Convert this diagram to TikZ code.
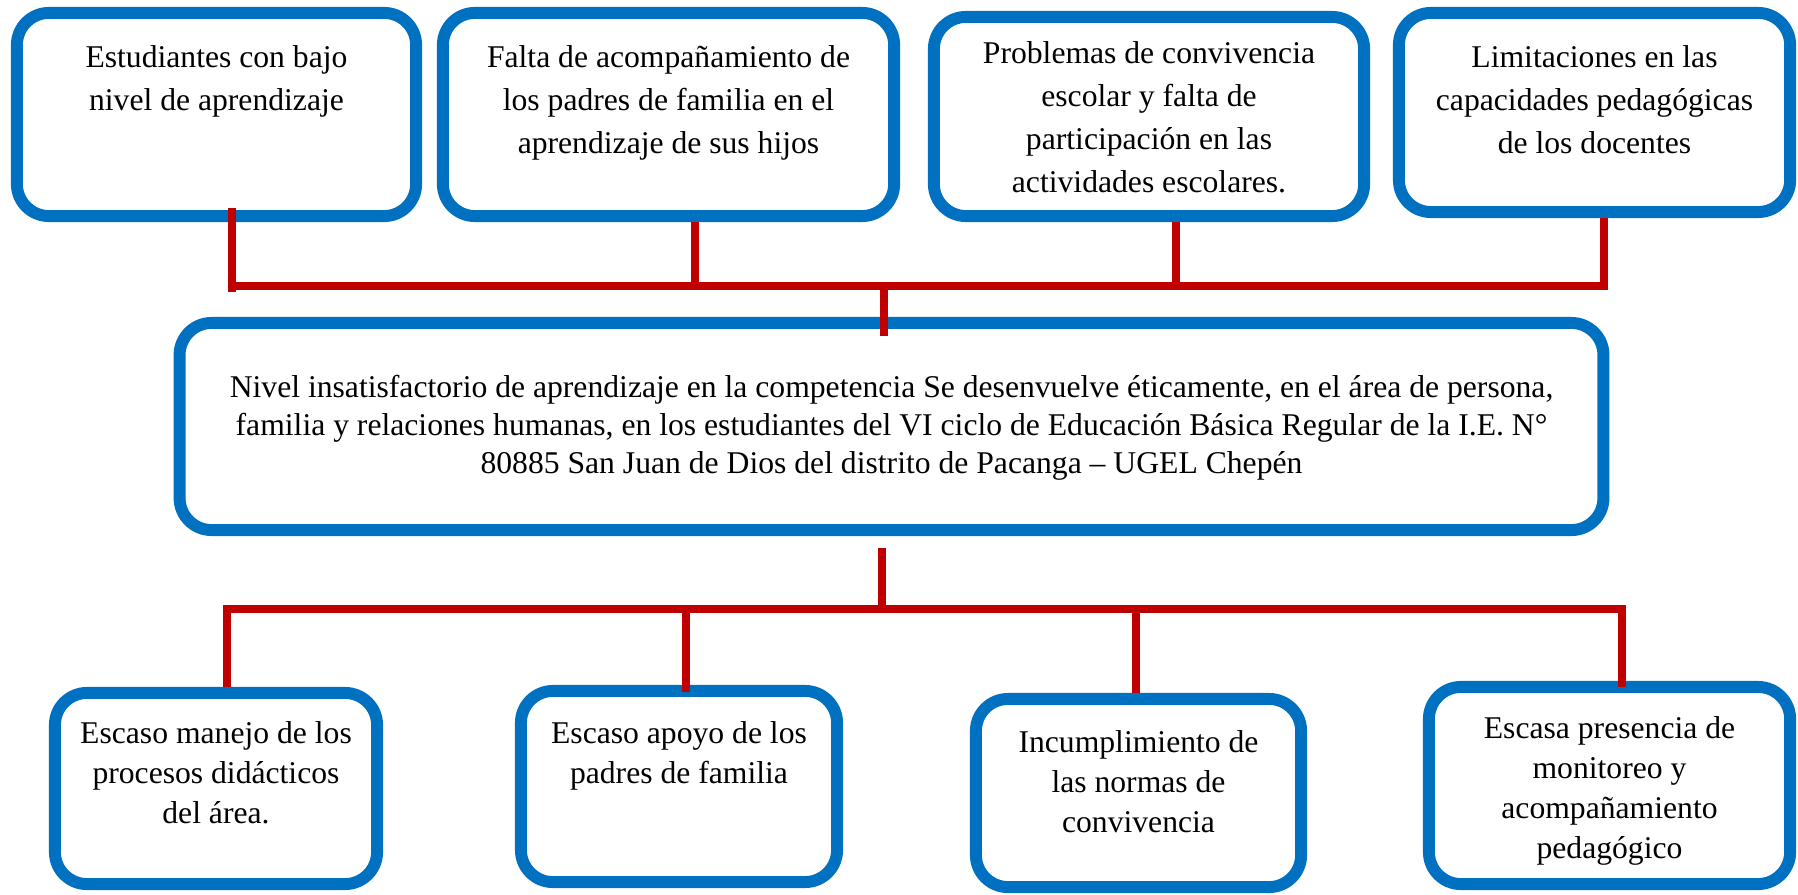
\documentclass[tikz,border=0pt]{standalone}
\usepackage{fontspec}
\setmainfont{Liberation Serif}
\usetikzlibrary{positioning}
\definecolor{azul}{HTML}{0070C0}
\definecolor{rojo}{HTML}{C00000}
% ancho, alto, espacio arriba (cm), texto
\newcommand{\cajatexto}[4]{\parbox[c][#2cm][t]{#1cm}{\centering\vspace*{#3cm}\strut #4}}

\begin{document}
\begin{tikzpicture}[x=0.01cm, y=-0.01cm,
    caja/.style={draw=azul, line width=3.4pt, rounded corners=0.32cm, inner sep=0pt},
    arriba/.style={font=\fontsize{9}{12.2}\selectfont},
    centro/.style={font=\fontsize{9}{10.8}\selectfont},
    abajo/.style={font=\fontsize{9}{11.4}\selectfont},
    linea/.style={draw=rojo, line width=2.1pt}]
    \useasboundingbox (0,0) rectangle (1798,894);

    % Cajas de arriba
    \node[caja, arriba] (e1) at (216.5,114.5) {\cajatexto{3.99}{2.03}{0.244}{Estudiantes con bajo\\nivel de aprendizaje}};
    \node[caja, arriba] (e2) at (668.5,114.5) {\cajatexto{4.51}{2.03}{0.244}{Falta de acompañamiento de\\los padres de familia en el\\aprendizaje de sus hijos}};
    \node[caja, arriba] (e3) at (1149,116.5) {\cajatexto{4.30}{1.99}{0.164}{Problemas de convivencia\\escolar y falta de\\participación en las\\actividades escolares.}};
    \node[caja, arriba] (e4) at (1594.5,112.5) {\cajatexto{3.91}{1.99}{0.244}{Limitaciones en las\\capacidades pedagógicas\\de los docentes}};

    % Problema central
    \node[caja, centro] (p) at (891.5,426.5) {\cajatexto{14.23}{2.07}{0.479}{Nivel insatisfactorio de aprendizaje en la competencia Se desenvuelve éticamente, en el área de persona,\\familia y relaciones humanas, en los estudiantes del VI ciclo de Educación Básica Regular de la I.E. N°\\80885 San Juan de Dios del distrito de Pacanga -- UGEL Chepén}};

    % Cajas de abajo
    \node[caja, abajo] (c1) at (216,788.5) {\cajatexto{3.22}{1.91}{0.225}{Escaso manejo de los\\procesos didácticos\\del área.}};
    \node[caja, abajo] (c2) at (679,786.5) {\cajatexto{3.16}{1.91}{0.245}{Escaso apoyo de los\\padres de familia}};
    \node[caja, abajo] (c3) at (1138.5,793) {\cajatexto{3.25}{1.88}{0.255}{Incumplimiento de\\las normas de\\convivencia}};
    \node[caja, abajo] (c4) at (1609.5,785.5) {\cajatexto{3.61}{1.97}{0.235}{Escasa presencia de\\monitoreo y\\acompañamiento\\pedagógico}};

    % Lineas de arriba
    \coordinate (j0) at (884,286);
    \coordinate (j1) at (232,286);
    \coordinate (j2) at (695,286);
    \coordinate (j3) at (1176,286);
    \coordinate (j4) at (1604,286);
    \draw[linea] (j1) -- (j4);
    \draw[linea] ([yshift=0.14cm]j1 |- e1.south) -- ([yshift=-0.06cm]j1);
    \draw[linea] (j2 |- e2.south) -- (j2);
    \draw[linea] (j3 |- e3.south) -- (j3);
    \draw[linea] (j4 |- e4.south) -- ([yshift=-0.04cm]j4);
    \draw[linea] (j0) -- ([yshift=-0.19cm]p.north -| j0);

    % Lineas de abajo
    \coordinate (k0) at (882,609);
    \coordinate (k1) at (227,609);
    \coordinate (k2) at (686,609);
    \coordinate (k3) at (1136,609);
    \coordinate (k4) at (1622,609);
    \draw[linea] ([yshift=-0.12cm]p.south -| k0) -- (k0);
    \draw[linea] (k1 |- c1.north) -- (k1) -- (k4) -- ([yshift=-0.06cm]k4 |- c4.north);
    \draw[linea] (k2) -- ([yshift=-0.07cm]k2 |- c2.north);
    \draw[linea] (k3) -- (k3 |- c3.north);
\end{tikzpicture}
\end{document}
